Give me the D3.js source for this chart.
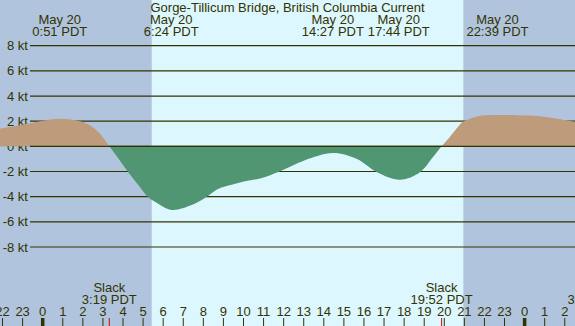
<!DOCTYPE html>
<html>
<head>
<meta charset="utf-8">
<script src="https://cdn.jsdelivr.net/npm/d3@7"></script>
<style>
  html, body { margin: 0; padding: 0; background: #fff; }
  svg { display: block; font-family: "Liberation Sans", Arial, sans-serif; }
</style>
</head>
<body>
<div id="chart"></div>
<script>
// hours since midnight May 20 (PDT), current speed in knots (+ flood, - ebb)
const curveHours = [-2.13, -1.13, -0.13, 0.86, 1.86, 2.35, 2.85, 3.32, 3.76, 4.23, 4.76, 5.23, 5.59, 6.42,
  7.42, 8.08, 8.75, 9.41, 10.07, 10.91, 11.73, 12.4, 13.06, 14.46, 15.65, 16.65, 17.8, 18.79, 19.44, 19.87,
  20.28, 20.93, 21.28, 21.92, 22.77, 23.62, 24.77, 25.41, 26.51];
const curveKnots = [1.4, 1.67, 2.0, 2.2, 2.0, 1.68, 1.0, 0, -0.95, -2.0, -3.07, -4.0, -4.4, -5.05,
  -4.67, -4.1, -3.37, -3.05, -2.78, -2.52, -2.04, -1.56, -1.1, -0.53, -1.0, -2.05, -2.65, -2.05, -0.85, 0,
  0.75, 1.95, 2.2, 2.45, 2.5, 2.48, 2.4, 2.25, 1.95];

const eventHours = [0.85, 6.4, 14.45, 17.733, 22.65];
const eventLabels = ["0:51 PDT", "6:24 PDT", "14:27 PDT", "17:44 PDT", "22:39 PDT"];

const slackHours = [3.317, 19.867, 27.5];
const slackLabels = ["3:19 PDT", "19:52 PDT", "3:30 PDT"];

const sunrise = 5.43;
const sunset = 20.95;

const yTicks = [8, 6, 4, 2, 0, -2, -4, -6, -8];
const hourTicks = d3.range(-2, 27);

const width = 575;
const height = 326;
const textColor = "#333300";
const fontSize = 13;

const svg = d3.create("svg")
  .attr("viewBox", [0, 0, width, height])
  .attr("width", width)
  .attr("height", height);

const x = d3.scaleLinear().domain([0, 24]).range([42.7, 524.6]);
const y = d3.scaleLinear().domain([-8, 8]).range([247, 45.7]);

// night / day background
svg.append("rect").attr("x", 0).attr("y", 0).attr("width", width).attr("height", height)
  .attr("fill", "#b0c4de");
svg.append("rect")
  .attr("x", x(sunrise)).attr("y", 0)
  .attr("width", x(sunset) - x(sunrise)).attr("height", height)
  .attr("fill", "#ddf7ff");

// grid lines
svg.append("g")
  .selectAll("line")
  .data(yTicks)
  .join("line")
  .attr("x1", 30).attr("x2", width)
  .attr("y1", d => y(d)).attr("y2", d => y(d))
  .attr("stroke", textColor)
  .attr("stroke-width", 1.2);

svg.append("g")
  .selectAll("text")
  .data(yTicks)
  .join("text")
  .attr("x", 28)
  .attr("y", d => y(d))
  .attr("dy", "0.35em")
  .attr("text-anchor", "end")
  .attr("font-size", fontSize)
  .attr("fill", textColor)
  .text(d => `${d} kt`);

// current area, split in flood and ebb with clips
const pts = curveHours.map((h, i) => [h, curveKnots[i]]);
const area = d3.area()
  .x(d => x(d[0]))
  .y0(y(0))
  .y1(d => y(d[1]))
  .curve(d3.curveCatmullRom.alpha(0.5));

const defs = svg.append("defs");
defs.append("clipPath").attr("id", "clip-flood")
  .append("rect").attr("x", 0).attr("y", 0).attr("width", width).attr("height", y(0));
defs.append("clipPath").attr("id", "clip-ebb")
  .append("rect").attr("x", 0).attr("y", y(0)).attr("width", width).attr("height", height - y(0));

svg.append("path").datum(pts)
  .attr("d", area)
  .attr("fill", "#bd9b7b")
  .attr("clip-path", "url(#clip-flood)");
svg.append("path").datum(pts)
  .attr("d", area)
  .attr("fill", "#509672")
  .attr("clip-path", "url(#clip-ebb)");

// zero line on top
svg.append("line")
  .attr("x1", 30).attr("x2", width)
  .attr("y1", y(0)).attr("y2", y(0))
  .attr("stroke", textColor)
  .attr("stroke-width", 1.2);

// title
svg.append("text")
  .attr("x", width / 2)
  .attr("y", 12)
  .attr("text-anchor", "middle")
  .attr("font-size", fontSize)
  .attr("fill", textColor)
  .text("Gorge-Tillicum Bridge, British Columbia Current");

// max / min labels along the top
const evG = svg.append("g")
  .selectAll("text")
  .data(eventHours.map((h, i) => ({ h, label: eventLabels[i] })))
  .join("text")
  .attr("text-anchor", "middle")
  .attr("font-size", fontSize)
  .attr("fill", textColor);
evG.append("tspan").attr("x", d => x(d.h)).attr("y", 24).text("May 20");
evG.append("tspan").attr("x", d => x(d.h)).attr("y", 36).text(d => d.label);

// slack labels along the bottom
const slG = svg.append("g")
  .selectAll("text")
  .data(slackHours.map((h, i) => ({ h, label: slackLabels[i] })))
  .join("text")
  .attr("text-anchor", "middle")
  .attr("font-size", fontSize)
  .attr("fill", textColor);
slG.append("tspan").attr("x", d => x(d.h)).attr("y", 292).text("Slack");
slG.append("tspan").attr("x", d => x(d.h)).attr("y", 304).text(d => d.label);

// hour ticks
svg.append("g")
  .selectAll("line")
  .data(hourTicks)
  .join("line")
  .attr("x1", d => x(d)).attr("x2", d => x(d))
  .attr("y1", 318).attr("y2", height)
  .attr("stroke", textColor)
  .attr("stroke-width", d => (d % 24 === 0 ? 3.5 : 1));

svg.append("g")
  .selectAll("text")
  .data(hourTicks)
  .join("text")
  .attr("x", d => x(d))
  .attr("y", 316)
  .attr("text-anchor", "middle")
  .attr("font-size", fontSize)
  .attr("fill", textColor)
  .text(d => ((d % 24) + 24) % 24);

// slack markers
svg.append("g")
  .selectAll("line")
  .data(slackHours)
  .join("line")
  .attr("x1", d => x(d)).attr("x2", d => x(d))
  .attr("y1", 318).attr("y2", height)
  .attr("stroke", "#e00000")
  .attr("stroke-width", 1);

d3.select("#chart").append(() => svg.node());
</script>
</body>
</html>
